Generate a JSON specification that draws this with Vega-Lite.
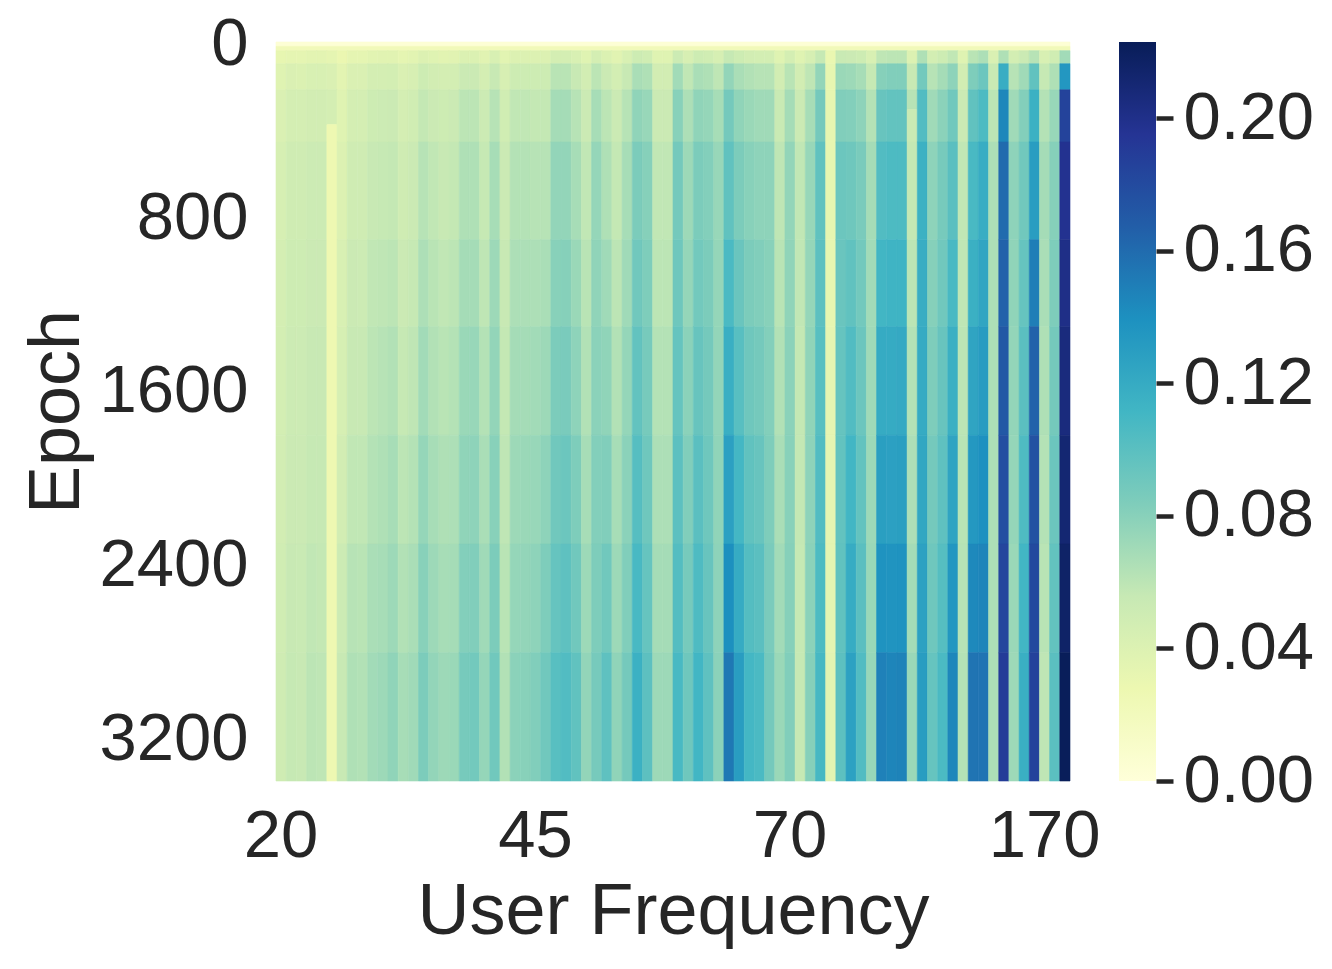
{
  "$schema": "https://vega.github.io/schema/vega-lite/v6.json",
  "description": "Heatmap of a per-user-frequency score over training epochs, with a colour bar",
  "background": "white",
  "padding": {"left": 20, "top": 10, "right": 5, "bottom": 5},
  "bounds": "flush",
  "config": {
    "font": "Liberation Sans",
    "view": {"stroke": null},
    "axis": {
      "labelColor": "#262626",
      "titleColor": "#262626",
      "titleFontWeight": "normal",
      "labelFontSize": 67,
      "titleFontSize": 72,
      "grid": false,
      "domain": false
    }
  },
  "spacing": 49,
  "hconcat": [
    {
      "width": 794,
      "height": 739,
      "encoding": {
        "y": {
          "field": "start",
          "type": "quantitative",
          "scale": {"domain": [-10, 3390], "reverse": true, "nice": false, "zero": false},
          "axis": {"values": [0, 800, 1600, 2400, 3200], "format": "d", "ticks": false, "tickSize": 0, "labelPadding": 28, "title": "Epoch", "titlePadding": 5}
        },
        "y2": {"field": "end"},
        "color": {
          "field": "value",
          "type": "quantitative",
          "legend": null,
          "scale": {
            "domain": [0, 0.027875, 0.05575, 0.083625, 0.1115, 0.139375, 0.16725, 0.195125, 0.223],
            "range": ["#ffffd9", "#edf8b1", "#c7e9b4", "#7fcdbb", "#41b6c4", "#1d91c0", "#225ea8", "#253494", "#081d58"],
            "interpolate": "rgb",
            "clamp": true
          }
        },
        "stroke": {
          "field": "value",
          "type": "quantitative",
          "legend": null,
          "scale": {
            "domain": [0, 0.027875, 0.05575, 0.083625, 0.1115, 0.139375, 0.16725, 0.195125, 0.223],
            "range": ["#ffffd9", "#edf8b1", "#c7e9b4", "#7fcdbb", "#41b6c4", "#1d91c0", "#225ea8", "#253494", "#081d58"],
            "interpolate": "rgb",
            "clamp": true
          }
        }
      },
      "layer": [
        {
          "data": {"values": [
            {"start": -10, "end": 10, "value": 0.003},
            {"start": 10, "end": 30, "value": 0.022}
          ]},
          "mark": {"type": "rect", "strokeWidth": 0.6}
        },
        {
          "data": {"values": [
            {"col":0,"start":30,"end":90,"value":0.032},{"col":0,"start":90,"end":210,"value":0.038},{"col":0,"start":210,"end":450,"value":0.042},{"col":0,"start":450,"end":900,"value":0.045},{"col":0,"start":900,"end":1300,"value":0.046},{"col":0,"start":1300,"end":1800,"value":0.047},{"col":0,"start":1800,"end":2300,"value":0.048},{"col":0,"start":2300,"end":2800,"value":0.049},{"col":0,"start":2800,"end":3390,"value":0.050},
            {"col":1,"start":30,"end":90,"value":0.034},{"col":1,"start":90,"end":210,"value":0.042},{"col":1,"start":210,"end":450,"value":0.046},{"col":1,"start":450,"end":900,"value":0.050},{"col":1,"start":900,"end":1300,"value":0.051},{"col":1,"start":1300,"end":1800,"value":0.052},{"col":1,"start":1800,"end":2300,"value":0.053},{"col":1,"start":2300,"end":2800,"value":0.055},{"col":1,"start":2800,"end":3390,"value":0.056},
            {"col":2,"start":30,"end":90,"value":0.034},{"col":2,"start":90,"end":210,"value":0.041},{"col":2,"start":210,"end":450,"value":0.046},{"col":2,"start":450,"end":900,"value":0.050},{"col":2,"start":900,"end":1300,"value":0.051},{"col":2,"start":1300,"end":1800,"value":0.052},{"col":2,"start":1800,"end":2300,"value":0.053},{"col":2,"start":2300,"end":2800,"value":0.054},{"col":2,"start":2800,"end":3390,"value":0.055},
            {"col":3,"start":30,"end":90,"value":0.035},{"col":3,"start":90,"end":210,"value":0.043},{"col":3,"start":210,"end":450,"value":0.048},{"col":3,"start":450,"end":900,"value":0.052},{"col":3,"start":900,"end":1300,"value":0.053},{"col":3,"start":1300,"end":1800,"value":0.055},{"col":3,"start":1800,"end":2300,"value":0.056},{"col":3,"start":2300,"end":2800,"value":0.058},{"col":3,"start":2800,"end":3390,"value":0.060},
            {"col":4,"start":30,"end":90,"value":0.035},{"col":4,"start":90,"end":210,"value":0.043},{"col":4,"start":210,"end":450,"value":0.048},{"col":4,"start":450,"end":900,"value":0.052},{"col":4,"start":900,"end":1300,"value":0.053},{"col":4,"start":1300,"end":1800,"value":0.055},{"col":4,"start":1800,"end":2300,"value":0.056},{"col":4,"start":2300,"end":2800,"value":0.057},{"col":4,"start":2800,"end":3390,"value":0.059},
            {"col":5,"start":30,"end":90,"value":0.034},{"col":5,"start":90,"end":210,"value":0.042},{"col":5,"start":210,"end":370,"value":0.046},{"col":5,"start":370,"end":3390,"value":0.027},
            {"col":6,"start":30,"end":90,"value":0.029},{"col":6,"start":90,"end":210,"value":0.035},{"col":6,"start":210,"end":450,"value":0.038},{"col":6,"start":450,"end":900,"value":0.040},{"col":6,"start":900,"end":1300,"value":0.043},{"col":6,"start":1300,"end":1800,"value":0.045},{"col":6,"start":1800,"end":2300,"value":0.048},{"col":6,"start":2300,"end":2800,"value":0.052},{"col":6,"start":2800,"end":3390,"value":0.055},
            {"col":7,"start":30,"end":90,"value":0.034},{"col":7,"start":90,"end":210,"value":0.042},{"col":7,"start":210,"end":450,"value":0.046},{"col":7,"start":450,"end":900,"value":0.050},{"col":7,"start":900,"end":1300,"value":0.053},{"col":7,"start":1300,"end":1800,"value":0.055},{"col":7,"start":1800,"end":2300,"value":0.058},{"col":7,"start":2300,"end":2800,"value":0.062},{"col":7,"start":2800,"end":3390,"value":0.065},
            {"col":8,"start":30,"end":90,"value":0.034},{"col":8,"start":90,"end":210,"value":0.042},{"col":8,"start":210,"end":450,"value":0.046},{"col":8,"start":450,"end":900,"value":0.050},{"col":8,"start":900,"end":1300,"value":0.052},{"col":8,"start":1300,"end":1800,"value":0.055},{"col":8,"start":1800,"end":2300,"value":0.058},{"col":8,"start":2300,"end":2800,"value":0.061},{"col":8,"start":2800,"end":3390,"value":0.064},
            {"col":9,"start":30,"end":90,"value":0.036},{"col":9,"start":90,"end":210,"value":0.046},{"col":9,"start":210,"end":450,"value":0.051},{"col":9,"start":450,"end":900,"value":0.055},{"col":9,"start":900,"end":1300,"value":0.058},{"col":9,"start":1300,"end":1800,"value":0.060},{"col":9,"start":1800,"end":2300,"value":0.063},{"col":9,"start":2300,"end":2800,"value":0.067},{"col":9,"start":2800,"end":3390,"value":0.070},
            {"col":10,"start":30,"end":90,"value":0.037},{"col":10,"start":90,"end":210,"value":0.046},{"col":10,"start":210,"end":450,"value":0.052},{"col":10,"start":450,"end":900,"value":0.056},{"col":10,"start":900,"end":1300,"value":0.059},{"col":10,"start":1300,"end":1800,"value":0.062},{"col":10,"start":1800,"end":2300,"value":0.065},{"col":10,"start":2300,"end":2800,"value":0.068},{"col":10,"start":2800,"end":3390,"value":0.072},
            {"col":11,"start":30,"end":90,"value":0.037},{"col":11,"start":90,"end":210,"value":0.047},{"col":11,"start":210,"end":450,"value":0.053},{"col":11,"start":450,"end":900,"value":0.057},{"col":11,"start":900,"end":1300,"value":0.060},{"col":11,"start":1300,"end":1800,"value":0.064},{"col":11,"start":1800,"end":2300,"value":0.068},{"col":11,"start":2300,"end":2800,"value":0.072},{"col":11,"start":2800,"end":3390,"value":0.077},
            {"col":12,"start":30,"end":90,"value":0.034},{"col":12,"start":90,"end":210,"value":0.042},{"col":12,"start":210,"end":450,"value":0.046},{"col":12,"start":450,"end":900,"value":0.050},{"col":12,"start":900,"end":1300,"value":0.053},{"col":12,"start":1300,"end":1800,"value":0.056},{"col":12,"start":1800,"end":2300,"value":0.060},{"col":12,"start":2300,"end":2800,"value":0.064},{"col":12,"start":2800,"end":3390,"value":0.068},
            {"col":13,"start":30,"end":90,"value":0.036},{"col":13,"start":90,"end":210,"value":0.044},{"col":13,"start":210,"end":450,"value":0.049},{"col":13,"start":450,"end":900,"value":0.053},{"col":13,"start":900,"end":1300,"value":0.056},{"col":13,"start":1300,"end":1800,"value":0.059},{"col":13,"start":1800,"end":2300,"value":0.063},{"col":13,"start":2300,"end":2800,"value":0.067},{"col":13,"start":2800,"end":3390,"value":0.071},
            {"col":14,"start":30,"end":90,"value":0.040},{"col":14,"start":90,"end":210,"value":0.051},{"col":14,"start":210,"end":450,"value":0.057},{"col":14,"start":450,"end":900,"value":0.062},{"col":14,"start":900,"end":1300,"value":0.066},{"col":14,"start":1300,"end":1800,"value":0.070},{"col":14,"start":1800,"end":2300,"value":0.075},{"col":14,"start":2300,"end":2800,"value":0.080},{"col":14,"start":2800,"end":3390,"value":0.085},
            {"col":15,"start":30,"end":90,"value":0.038},{"col":15,"start":90,"end":210,"value":0.048},{"col":15,"start":210,"end":450,"value":0.053},{"col":15,"start":450,"end":900,"value":0.058},{"col":15,"start":900,"end":1300,"value":0.061},{"col":15,"start":1300,"end":1800,"value":0.064},{"col":15,"start":1800,"end":2300,"value":0.068},{"col":15,"start":2300,"end":2800,"value":0.072},{"col":15,"start":2800,"end":3390,"value":0.076},
            {"col":16,"start":30,"end":90,"value":0.036},{"col":16,"start":90,"end":210,"value":0.046},{"col":16,"start":210,"end":450,"value":0.051},{"col":16,"start":450,"end":900,"value":0.055},{"col":16,"start":900,"end":1300,"value":0.058},{"col":16,"start":1300,"end":1800,"value":0.061},{"col":16,"start":1800,"end":2300,"value":0.065},{"col":16,"start":2300,"end":2800,"value":0.068},{"col":16,"start":2800,"end":3390,"value":0.072},
            {"col":17,"start":30,"end":90,"value":0.037},{"col":17,"start":90,"end":210,"value":0.047},{"col":17,"start":210,"end":450,"value":0.053},{"col":17,"start":450,"end":900,"value":0.057},{"col":17,"start":900,"end":1300,"value":0.060},{"col":17,"start":1300,"end":1800,"value":0.063},{"col":17,"start":1800,"end":2300,"value":0.066},{"col":17,"start":2300,"end":2800,"value":0.069},{"col":17,"start":2800,"end":3390,"value":0.073},
            {"col":18,"start":30,"end":90,"value":0.041},{"col":18,"start":90,"end":210,"value":0.053},{"col":18,"start":210,"end":450,"value":0.060},{"col":18,"start":450,"end":900,"value":0.065},{"col":18,"start":900,"end":1300,"value":0.069},{"col":18,"start":1300,"end":1800,"value":0.073},{"col":18,"start":1800,"end":2300,"value":0.077},{"col":18,"start":2300,"end":2800,"value":0.082},{"col":18,"start":2800,"end":3390,"value":0.087},
            {"col":19,"start":30,"end":90,"value":0.041},{"col":19,"start":90,"end":210,"value":0.053},{"col":19,"start":210,"end":450,"value":0.060},{"col":19,"start":450,"end":900,"value":0.065},{"col":19,"start":900,"end":1300,"value":0.069},{"col":19,"start":1300,"end":1800,"value":0.074},{"col":19,"start":1800,"end":2300,"value":0.078},{"col":19,"start":2300,"end":2800,"value":0.083},{"col":19,"start":2800,"end":3390,"value":0.089},
            {"col":20,"start":30,"end":90,"value":0.037},{"col":20,"start":90,"end":210,"value":0.046},{"col":20,"start":210,"end":450,"value":0.052},{"col":20,"start":450,"end":900,"value":0.056},{"col":20,"start":900,"end":1300,"value":0.059},{"col":20,"start":1300,"end":1800,"value":0.063},{"col":20,"start":1800,"end":2300,"value":0.067},{"col":20,"start":2300,"end":2800,"value":0.071},{"col":20,"start":2800,"end":3390,"value":0.075},
            {"col":21,"start":30,"end":90,"value":0.043},{"col":21,"start":90,"end":210,"value":0.055},{"col":21,"start":210,"end":450,"value":0.062},{"col":21,"start":450,"end":900,"value":0.068},{"col":21,"start":900,"end":1300,"value":0.072},{"col":21,"start":1300,"end":1800,"value":0.076},{"col":21,"start":1800,"end":2300,"value":0.080},{"col":21,"start":2300,"end":2800,"value":0.085},{"col":21,"start":2800,"end":3390,"value":0.090},
            {"col":22,"start":30,"end":90,"value":0.036},{"col":22,"start":90,"end":210,"value":0.044},{"col":22,"start":210,"end":450,"value":0.049},{"col":22,"start":450,"end":900,"value":0.053},{"col":22,"start":900,"end":1300,"value":0.055},{"col":22,"start":1300,"end":1800,"value":0.057},{"col":22,"start":1800,"end":2300,"value":0.059},{"col":22,"start":2300,"end":2800,"value":0.061},{"col":22,"start":2800,"end":3390,"value":0.064},
            {"col":23,"start":30,"end":90,"value":0.040},{"col":23,"start":90,"end":210,"value":0.051},{"col":23,"start":210,"end":450,"value":0.058},{"col":23,"start":450,"end":900,"value":0.063},{"col":23,"start":900,"end":1300,"value":0.066},{"col":23,"start":1300,"end":1800,"value":0.069},{"col":23,"start":1800,"end":2300,"value":0.072},{"col":23,"start":2300,"end":2800,"value":0.075},{"col":23,"start":2800,"end":3390,"value":0.079},
            {"col":24,"start":30,"end":90,"value":0.040},{"col":24,"start":90,"end":210,"value":0.051},{"col":24,"start":210,"end":450,"value":0.058},{"col":24,"start":450,"end":900,"value":0.063},{"col":24,"start":900,"end":1300,"value":0.066},{"col":24,"start":1300,"end":1800,"value":0.069},{"col":24,"start":1800,"end":2300,"value":0.073},{"col":24,"start":2300,"end":2800,"value":0.076},{"col":24,"start":2800,"end":3390,"value":0.080},
            {"col":25,"start":30,"end":90,"value":0.040},{"col":25,"start":90,"end":210,"value":0.051},{"col":25,"start":210,"end":450,"value":0.057},{"col":25,"start":450,"end":900,"value":0.062},{"col":25,"start":900,"end":1300,"value":0.066},{"col":25,"start":1300,"end":1800,"value":0.070},{"col":25,"start":1800,"end":2300,"value":0.074},{"col":25,"start":2300,"end":2800,"value":0.078},{"col":25,"start":2800,"end":3390,"value":0.083},
            {"col":26,"start":30,"end":90,"value":0.040},{"col":26,"start":90,"end":210,"value":0.051},{"col":26,"start":210,"end":450,"value":0.057},{"col":26,"start":450,"end":900,"value":0.062},{"col":26,"start":900,"end":1300,"value":0.067},{"col":26,"start":1300,"end":1800,"value":0.072},{"col":26,"start":1800,"end":2300,"value":0.078},{"col":26,"start":2300,"end":2800,"value":0.084},{"col":26,"start":2800,"end":3390,"value":0.090},
            {"col":27,"start":30,"end":90,"value":0.046},{"col":27,"start":90,"end":210,"value":0.061},{"col":27,"start":210,"end":450,"value":0.069},{"col":27,"start":450,"end":900,"value":0.076},{"col":27,"start":900,"end":1300,"value":0.080},{"col":27,"start":1300,"end":1800,"value":0.085},{"col":27,"start":1800,"end":2300,"value":0.090},{"col":27,"start":2300,"end":2800,"value":0.095},{"col":27,"start":2800,"end":3390,"value":0.101},
            {"col":28,"start":30,"end":90,"value":0.046},{"col":28,"start":90,"end":210,"value":0.061},{"col":28,"start":210,"end":450,"value":0.069},{"col":28,"start":450,"end":900,"value":0.076},{"col":28,"start":900,"end":1300,"value":0.081},{"col":28,"start":1300,"end":1800,"value":0.086},{"col":28,"start":1800,"end":2300,"value":0.092},{"col":28,"start":2300,"end":2800,"value":0.098},{"col":28,"start":2800,"end":3390,"value":0.104},
            {"col":29,"start":30,"end":90,"value":0.043},{"col":29,"start":90,"end":210,"value":0.055},{"col":29,"start":210,"end":450,"value":0.062},{"col":29,"start":450,"end":900,"value":0.068},{"col":29,"start":900,"end":1300,"value":0.073},{"col":29,"start":1300,"end":1800,"value":0.078},{"col":29,"start":1800,"end":2300,"value":0.084},{"col":29,"start":2300,"end":2800,"value":0.090},{"col":29,"start":2800,"end":3390,"value":0.097},
            {"col":30,"start":30,"end":90,"value":0.038},{"col":30,"start":90,"end":210,"value":0.048},{"col":30,"start":210,"end":450,"value":0.053},{"col":30,"start":450,"end":900,"value":0.058},{"col":30,"start":900,"end":1300,"value":0.061},{"col":30,"start":1300,"end":1800,"value":0.064},{"col":30,"start":1800,"end":2300,"value":0.068},{"col":30,"start":2300,"end":2800,"value":0.072},{"col":30,"start":2800,"end":3390,"value":0.076},
            {"col":31,"start":30,"end":90,"value":0.046},{"col":31,"start":90,"end":210,"value":0.060},{"col":31,"start":210,"end":450,"value":0.068},{"col":31,"start":450,"end":900,"value":0.075},{"col":31,"start":900,"end":1300,"value":0.077},{"col":31,"start":1300,"end":1800,"value":0.079},{"col":31,"start":1800,"end":2300,"value":0.082},{"col":31,"start":2300,"end":2800,"value":0.084},{"col":31,"start":2800,"end":3390,"value":0.087},
            {"col":32,"start":30,"end":90,"value":0.041},{"col":32,"start":90,"end":210,"value":0.053},{"col":32,"start":210,"end":450,"value":0.060},{"col":32,"start":450,"end":900,"value":0.065},{"col":32,"start":900,"end":1300,"value":0.071},{"col":32,"start":1300,"end":1800,"value":0.077},{"col":32,"start":1800,"end":2300,"value":0.083},{"col":32,"start":2300,"end":2800,"value":0.090},{"col":32,"start":2800,"end":3390,"value":0.098},
            {"col":33,"start":30,"end":90,"value":0.037},{"col":33,"start":90,"end":210,"value":0.047},{"col":33,"start":210,"end":450,"value":0.053},{"col":33,"start":450,"end":900,"value":0.057},{"col":33,"start":900,"end":1300,"value":0.060},{"col":33,"start":1300,"end":1800,"value":0.064},{"col":33,"start":1800,"end":2300,"value":0.068},{"col":33,"start":2300,"end":2800,"value":0.072},{"col":33,"start":2800,"end":3390,"value":0.077},
            {"col":34,"start":30,"end":90,"value":0.043},{"col":34,"start":90,"end":210,"value":0.055},{"col":34,"start":210,"end":450,"value":0.062},{"col":34,"start":450,"end":900,"value":0.068},{"col":34,"start":900,"end":1300,"value":0.071},{"col":34,"start":1300,"end":1800,"value":0.075},{"col":34,"start":1800,"end":2300,"value":0.079},{"col":34,"start":2300,"end":2800,"value":0.083},{"col":34,"start":2800,"end":3390,"value":0.088},
            {"col":35,"start":30,"end":90,"value":0.051},{"col":35,"start":90,"end":210,"value":0.067},{"col":35,"start":210,"end":450,"value":0.077},{"col":35,"start":450,"end":900,"value":0.085},{"col":35,"start":900,"end":1300,"value":0.090},{"col":35,"start":1300,"end":1800,"value":0.096},{"col":35,"start":1800,"end":2300,"value":0.102},{"col":35,"start":2300,"end":2800,"value":0.108},{"col":35,"start":2800,"end":3390,"value":0.115},
            {"col":36,"start":30,"end":90,"value":0.049},{"col":36,"start":90,"end":210,"value":0.065},{"col":36,"start":210,"end":450,"value":0.074},{"col":36,"start":450,"end":900,"value":0.081},{"col":36,"start":900,"end":1300,"value":0.084},{"col":36,"start":1300,"end":1800,"value":0.087},{"col":36,"start":1800,"end":2300,"value":0.091},{"col":36,"start":2300,"end":2800,"value":0.095},{"col":36,"start":2800,"end":3390,"value":0.099},
            {"col":37,"start":30,"end":90,"value":0.038},{"col":37,"start":90,"end":210,"value":0.048},{"col":37,"start":210,"end":450,"value":0.053},{"col":37,"start":450,"end":900,"value":0.058},{"col":37,"start":900,"end":1300,"value":0.060},{"col":37,"start":1300,"end":1800,"value":0.063},{"col":37,"start":1800,"end":2300,"value":0.066},{"col":37,"start":2300,"end":2800,"value":0.069},{"col":37,"start":2800,"end":3390,"value":0.072},
            {"col":38,"start":30,"end":90,"value":0.038},{"col":38,"start":90,"end":210,"value":0.048},{"col":38,"start":210,"end":450,"value":0.053},{"col":38,"start":450,"end":900,"value":0.058},{"col":38,"start":900,"end":1300,"value":0.060},{"col":38,"start":1300,"end":1800,"value":0.063},{"col":38,"start":1800,"end":2300,"value":0.066},{"col":38,"start":2300,"end":2800,"value":0.069},{"col":38,"start":2800,"end":3390,"value":0.072},
            {"col":39,"start":30,"end":90,"value":0.052},{"col":39,"start":90,"end":210,"value":0.070},{"col":39,"start":210,"end":450,"value":0.080},{"col":39,"start":450,"end":900,"value":0.088},{"col":39,"start":900,"end":1300,"value":0.091},{"col":39,"start":1300,"end":1800,"value":0.095},{"col":39,"start":1800,"end":2300,"value":0.099},{"col":39,"start":2300,"end":2800,"value":0.103},{"col":39,"start":2800,"end":3390,"value":0.108},
            {"col":40,"start":30,"end":90,"value":0.044},{"col":40,"start":90,"end":210,"value":0.058},{"col":40,"start":210,"end":450,"value":0.066},{"col":40,"start":450,"end":900,"value":0.072},{"col":40,"start":900,"end":1300,"value":0.075},{"col":40,"start":1300,"end":1800,"value":0.079},{"col":40,"start":1800,"end":2300,"value":0.083},{"col":40,"start":2300,"end":2800,"value":0.087},{"col":40,"start":2800,"end":3390,"value":0.091},
            {"col":41,"start":30,"end":90,"value":0.051},{"col":41,"start":90,"end":210,"value":0.067},{"col":41,"start":210,"end":450,"value":0.077},{"col":41,"start":450,"end":900,"value":0.085},{"col":41,"start":900,"end":1300,"value":0.089},{"col":41,"start":1300,"end":1800,"value":0.094},{"col":41,"start":1800,"end":2300,"value":0.100},{"col":41,"start":2300,"end":2800,"value":0.105},{"col":41,"start":2800,"end":3390,"value":0.111},
            {"col":42,"start":30,"end":90,"value":0.049},{"col":42,"start":90,"end":210,"value":0.065},{"col":42,"start":210,"end":450,"value":0.075},{"col":42,"start":450,"end":900,"value":0.082},{"col":42,"start":900,"end":1300,"value":0.085},{"col":42,"start":1300,"end":1800,"value":0.088},{"col":42,"start":1800,"end":2300,"value":0.091},{"col":42,"start":2300,"end":2800,"value":0.094},{"col":42,"start":2800,"end":3390,"value":0.098},
            {"col":43,"start":30,"end":90,"value":0.045},{"col":43,"start":90,"end":210,"value":0.059},{"col":43,"start":210,"end":450,"value":0.068},{"col":43,"start":450,"end":900,"value":0.074},{"col":43,"start":900,"end":1300,"value":0.075},{"col":43,"start":1300,"end":1800,"value":0.076},{"col":43,"start":1800,"end":2300,"value":0.077},{"col":43,"start":2300,"end":2800,"value":0.078},{"col":43,"start":2800,"end":3390,"value":0.079},
            {"col":44,"start":30,"end":90,"value":0.056},{"col":44,"start":90,"end":210,"value":0.076},{"col":44,"start":210,"end":450,"value":0.088},{"col":44,"start":450,"end":900,"value":0.097},{"col":44,"start":900,"end":1300,"value":0.107},{"col":44,"start":1300,"end":1800,"value":0.117},{"col":44,"start":1800,"end":2300,"value":0.128},{"col":44,"start":2300,"end":2800,"value":0.140},{"col":44,"start":2800,"end":3390,"value":0.153},
            {"col":45,"start":30,"end":90,"value":0.051},{"col":45,"start":90,"end":210,"value":0.067},{"col":45,"start":210,"end":450,"value":0.077},{"col":45,"start":450,"end":900,"value":0.085},{"col":45,"start":900,"end":1300,"value":0.093},{"col":45,"start":1300,"end":1800,"value":0.101},{"col":45,"start":1800,"end":2300,"value":0.110},{"col":45,"start":2300,"end":2800,"value":0.120},{"col":45,"start":2800,"end":3390,"value":0.130},
            {"col":46,"start":30,"end":90,"value":0.048},{"col":46,"start":90,"end":210,"value":0.064},{"col":46,"start":210,"end":450,"value":0.073},{"col":46,"start":450,"end":900,"value":0.080},{"col":46,"start":900,"end":1300,"value":0.085},{"col":46,"start":1300,"end":1800,"value":0.091},{"col":46,"start":1800,"end":2300,"value":0.097},{"col":46,"start":2300,"end":2800,"value":0.103},{"col":46,"start":2800,"end":3390,"value":0.110},
            {"col":47,"start":30,"end":90,"value":0.047},{"col":47,"start":90,"end":210,"value":0.062},{"col":47,"start":210,"end":450,"value":0.071},{"col":47,"start":450,"end":900,"value":0.078},{"col":47,"start":900,"end":1300,"value":0.083},{"col":47,"start":1300,"end":1800,"value":0.088},{"col":47,"start":1800,"end":2300,"value":0.094},{"col":47,"start":2300,"end":2800,"value":0.100},{"col":47,"start":2800,"end":3390,"value":0.107},
            {"col":48,"start":30,"end":90,"value":0.047},{"col":48,"start":90,"end":210,"value":0.062},{"col":48,"start":210,"end":450,"value":0.071},{"col":48,"start":450,"end":900,"value":0.078},{"col":48,"start":900,"end":1300,"value":0.080},{"col":48,"start":1300,"end":1800,"value":0.082},{"col":48,"start":1800,"end":2300,"value":0.084},{"col":48,"start":2300,"end":2800,"value":0.086},{"col":48,"start":2800,"end":3390,"value":0.088},
            {"col":49,"start":30,"end":90,"value":0.038},{"col":49,"start":90,"end":210,"value":0.048},{"col":49,"start":210,"end":450,"value":0.054},{"col":49,"start":450,"end":900,"value":0.059},{"col":49,"start":900,"end":1300,"value":0.061},{"col":49,"start":1300,"end":1800,"value":0.064},{"col":49,"start":1800,"end":2300,"value":0.067},{"col":49,"start":2300,"end":2800,"value":0.070},{"col":49,"start":2800,"end":3390,"value":0.073},
            {"col":50,"start":30,"end":90,"value":0.046},{"col":50,"start":90,"end":210,"value":0.061},{"col":50,"start":210,"end":450,"value":0.069},{"col":50,"start":450,"end":900,"value":0.076},{"col":50,"start":900,"end":1300,"value":0.077},{"col":50,"start":1300,"end":1800,"value":0.079},{"col":50,"start":1800,"end":2300,"value":0.080},{"col":50,"start":2300,"end":2800,"value":0.081},{"col":50,"start":2800,"end":3390,"value":0.083},
            {"col":51,"start":30,"end":90,"value":0.038},{"col":51,"start":90,"end":210,"value":0.048},{"col":51,"start":210,"end":450,"value":0.053},{"col":51,"start":450,"end":900,"value":0.058},{"col":51,"start":900,"end":1300,"value":0.058},{"col":51,"start":1300,"end":1800,"value":0.057},{"col":51,"start":1800,"end":2300,"value":0.057},{"col":51,"start":2300,"end":2800,"value":0.056},{"col":51,"start":2800,"end":3390,"value":0.056},
            {"col":52,"start":30,"end":90,"value":0.045},{"col":52,"start":90,"end":210,"value":0.059},{"col":52,"start":210,"end":450,"value":0.068},{"col":52,"start":450,"end":900,"value":0.074},{"col":52,"start":900,"end":1300,"value":0.075},{"col":52,"start":1300,"end":1800,"value":0.077},{"col":52,"start":1800,"end":2300,"value":0.078},{"col":52,"start":2300,"end":2800,"value":0.079},{"col":52,"start":2800,"end":3390,"value":0.081},
            {"col":53,"start":30,"end":90,"value":0.056},{"col":53,"start":90,"end":210,"value":0.076},{"col":53,"start":210,"end":450,"value":0.088},{"col":53,"start":450,"end":900,"value":0.097},{"col":53,"start":900,"end":1300,"value":0.099},{"col":53,"start":1300,"end":1800,"value":0.101},{"col":53,"start":1800,"end":2300,"value":0.104},{"col":53,"start":2300,"end":2800,"value":0.106},{"col":53,"start":2800,"end":3390,"value":0.109},
            {"col":54,"start":30,"end":90,"value":0.030},{"col":54,"start":90,"end":210,"value":0.032},{"col":54,"start":210,"end":450,"value":0.032},{"col":54,"start":450,"end":900,"value":0.032},{"col":54,"start":900,"end":1300,"value":0.032},{"col":54,"start":1300,"end":1800,"value":0.033},{"col":54,"start":1800,"end":2300,"value":0.034},{"col":54,"start":2300,"end":2800,"value":0.034},{"col":54,"start":2800,"end":3390,"value":0.035},
            {"col":55,"start":30,"end":90,"value":0.054},{"col":55,"start":90,"end":210,"value":0.073},{"col":55,"start":210,"end":450,"value":0.083},{"col":55,"start":450,"end":900,"value":0.092},{"col":55,"start":900,"end":1300,"value":0.093},{"col":55,"start":1300,"end":1800,"value":0.095},{"col":55,"start":1800,"end":2300,"value":0.096},{"col":55,"start":2300,"end":2800,"value":0.097},{"col":55,"start":2800,"end":3390,"value":0.099},
            {"col":56,"start":30,"end":90,"value":0.053},{"col":56,"start":90,"end":210,"value":0.072},{"col":56,"start":210,"end":450,"value":0.082},{"col":56,"start":450,"end":900,"value":0.091},{"col":56,"start":900,"end":1300,"value":0.097},{"col":56,"start":1300,"end":1800,"value":0.104},{"col":56,"start":1800,"end":2300,"value":0.111},{"col":56,"start":2300,"end":2800,"value":0.119},{"col":56,"start":2800,"end":3390,"value":0.127},
            {"col":57,"start":30,"end":90,"value":0.051},{"col":57,"start":90,"end":210,"value":0.068},{"col":57,"start":210,"end":450,"value":0.078},{"col":57,"start":450,"end":900,"value":0.086},{"col":57,"start":900,"end":1300,"value":0.089},{"col":57,"start":1300,"end":1800,"value":0.092},{"col":57,"start":1800,"end":2300,"value":0.096},{"col":57,"start":2300,"end":2800,"value":0.100},{"col":57,"start":2800,"end":3390,"value":0.104},
            {"col":58,"start":30,"end":90,"value":0.043},{"col":58,"start":90,"end":210,"value":0.056},{"col":58,"start":210,"end":450,"value":0.063},{"col":58,"start":450,"end":900,"value":0.069},{"col":58,"start":900,"end":1300,"value":0.070},{"col":58,"start":1300,"end":1800,"value":0.071},{"col":58,"start":1800,"end":2300,"value":0.072},{"col":58,"start":2300,"end":2800,"value":0.073},{"col":58,"start":2800,"end":3390,"value":0.074},
            {"col":59,"start":30,"end":90,"value":0.059},{"col":59,"start":90,"end":210,"value":0.081},{"col":59,"start":210,"end":450,"value":0.094},{"col":59,"start":450,"end":900,"value":0.104},{"col":59,"start":900,"end":1300,"value":0.111},{"col":59,"start":1300,"end":1800,"value":0.120},{"col":59,"start":1800,"end":2300,"value":0.129},{"col":59,"start":2300,"end":2800,"value":0.138},{"col":59,"start":2800,"end":3390,"value":0.148},
            {"col":60,"start":30,"end":90,"value":0.060},{"col":60,"start":90,"end":210,"value":0.083},{"col":60,"start":210,"end":450,"value":0.096},{"col":60,"start":450,"end":900,"value":0.106},{"col":60,"start":900,"end":1300,"value":0.113},{"col":60,"start":1300,"end":1800,"value":0.120},{"col":60,"start":1800,"end":2300,"value":0.128},{"col":60,"start":2300,"end":2800,"value":0.137},{"col":60,"start":2800,"end":3390,"value":0.146},
            {"col":61,"start":30,"end":90,"value":0.060},{"col":61,"start":90,"end":210,"value":0.083},{"col":61,"start":210,"end":450,"value":0.096},{"col":61,"start":450,"end":900,"value":0.106},{"col":61,"start":900,"end":1300,"value":0.113},{"col":61,"start":1300,"end":1800,"value":0.121},{"col":61,"start":1800,"end":2300,"value":0.129},{"col":61,"start":2300,"end":2800,"value":0.138},{"col":61,"start":2800,"end":3390,"value":0.147},
            {"col":62,"start":30,"end":90,"value":0.040},{"col":62,"start":90,"end":210,"value":0.055},{"col":62,"start":210,"end":300,"value":0.062},{"col":62,"start":300,"end":450,"value":0.054},{"col":62,"start":450,"end":900,"value":0.057},{"col":62,"start":900,"end":1300,"value":0.060},{"col":62,"start":1300,"end":1800,"value":0.063},{"col":62,"start":1800,"end":2300,"value":0.066},{"col":62,"start":2300,"end":2800,"value":0.069},{"col":62,"start":2800,"end":3390,"value":0.073},
            {"col":63,"start":30,"end":90,"value":0.065},{"col":63,"start":90,"end":210,"value":0.089},{"col":63,"start":210,"end":450,"value":0.104},{"col":63,"start":450,"end":900,"value":0.115},{"col":63,"start":900,"end":1300,"value":0.118},{"col":63,"start":1300,"end":1800,"value":0.120},{"col":63,"start":1800,"end":2300,"value":0.123},{"col":63,"start":2300,"end":2800,"value":0.127},{"col":63,"start":2800,"end":3390,"value":0.130},
            {"col":64,"start":30,"end":90,"value":0.047},{"col":64,"start":90,"end":210,"value":0.062},{"col":64,"start":210,"end":450,"value":0.071},{"col":64,"start":450,"end":900,"value":0.078},{"col":64,"start":900,"end":1300,"value":0.081},{"col":64,"start":1300,"end":1800,"value":0.084},{"col":64,"start":1800,"end":2300,"value":0.088},{"col":64,"start":2300,"end":2800,"value":0.091},{"col":64,"start":2800,"end":3390,"value":0.095},
            {"col":65,"start":30,"end":90,"value":0.051},{"col":65,"start":90,"end":210,"value":0.069},{"col":65,"start":210,"end":450,"value":0.079},{"col":65,"start":450,"end":900,"value":0.087},{"col":65,"start":900,"end":1300,"value":0.090},{"col":65,"start":1300,"end":1800,"value":0.094},{"col":65,"start":1800,"end":2300,"value":0.098},{"col":65,"start":2300,"end":2800,"value":0.102},{"col":65,"start":2800,"end":3390,"value":0.107},
            {"col":66,"start":30,"end":90,"value":0.058},{"col":66,"start":90,"end":210,"value":0.078},{"col":66,"start":210,"end":450,"value":0.090},{"col":66,"start":450,"end":900,"value":0.100},{"col":66,"start":900,"end":1300,"value":0.108},{"col":66,"start":1300,"end":1800,"value":0.116},{"col":66,"start":1800,"end":2300,"value":0.125},{"col":66,"start":2300,"end":2800,"value":0.135},{"col":66,"start":2800,"end":3390,"value":0.145},
            {"col":67,"start":30,"end":90,"value":0.038},{"col":67,"start":90,"end":210,"value":0.048},{"col":67,"start":210,"end":450,"value":0.053},{"col":67,"start":450,"end":900,"value":0.058},{"col":67,"start":900,"end":1300,"value":0.059},{"col":67,"start":1300,"end":1800,"value":0.060},{"col":67,"start":1800,"end":2300,"value":0.061},{"col":67,"start":2300,"end":2800,"value":0.062},{"col":67,"start":2800,"end":3390,"value":0.063},
            {"col":68,"start":30,"end":90,"value":0.061},{"col":68,"start":90,"end":210,"value":0.084},{"col":68,"start":210,"end":450,"value":0.097},{"col":68,"start":450,"end":900,"value":0.108},{"col":68,"start":900,"end":1300,"value":0.116},{"col":68,"start":1300,"end":1800,"value":0.125},{"col":68,"start":1800,"end":2300,"value":0.134},{"col":68,"start":2300,"end":2800,"value":0.144},{"col":68,"start":2800,"end":3390,"value":0.155},
            {"col":69,"start":30,"end":90,"value":0.066},{"col":69,"start":90,"end":210,"value":0.092},{"col":69,"start":210,"end":450,"value":0.106},{"col":69,"start":450,"end":900,"value":0.118},{"col":69,"start":900,"end":1300,"value":0.124},{"col":69,"start":1300,"end":1800,"value":0.131},{"col":69,"start":1800,"end":2300,"value":0.139},{"col":69,"start":2300,"end":2800,"value":0.146},{"col":69,"start":2800,"end":3390,"value":0.155},
            {"col":70,"start":30,"end":90,"value":0.042},{"col":70,"start":90,"end":210,"value":0.054},{"col":70,"start":210,"end":450,"value":0.060},{"col":70,"start":450,"end":3390,"value":0.066},
            {"col":71,"start":30,"end":90,"value":0.065},{"col":71,"start":90,"end":210,"value":0.118},{"col":71,"start":210,"end":450,"value":0.145},{"col":71,"start":450,"end":900,"value":0.160},{"col":71,"start":900,"end":1300,"value":0.165},{"col":71,"start":1300,"end":1800,"value":0.171},{"col":71,"start":1800,"end":2300,"value":0.177},{"col":71,"start":2300,"end":2800,"value":0.183},{"col":71,"start":2800,"end":3390,"value":0.190},
            {"col":72,"start":30,"end":90,"value":0.047},{"col":72,"start":90,"end":210,"value":0.062},{"col":72,"start":210,"end":450,"value":0.071},{"col":72,"start":450,"end":900,"value":0.078},{"col":72,"start":900,"end":1300,"value":0.077},{"col":72,"start":1300,"end":1800,"value":0.076},{"col":72,"start":1800,"end":2300,"value":0.075},{"col":72,"start":2300,"end":2800,"value":0.073},{"col":72,"start":2800,"end":3390,"value":0.072},
            {"col":73,"start":30,"end":90,"value":0.053},{"col":73,"start":90,"end":210,"value":0.071},{"col":73,"start":210,"end":450,"value":0.082},{"col":73,"start":450,"end":900,"value":0.090},{"col":73,"start":900,"end":1300,"value":0.095},{"col":73,"start":1300,"end":1800,"value":0.100},{"col":73,"start":1800,"end":2300,"value":0.105},{"col":73,"start":2300,"end":2800,"value":0.111},{"col":73,"start":2800,"end":3390,"value":0.117},
            {"col":74,"start":30,"end":90,"value":0.062},{"col":74,"start":90,"end":210,"value":0.097},{"col":74,"start":210,"end":450,"value":0.115},{"col":74,"start":450,"end":900,"value":0.130},{"col":74,"start":900,"end":1300,"value":0.150},{"col":74,"start":1300,"end":1800,"value":0.165},{"col":74,"start":1800,"end":2300,"value":0.175},{"col":74,"start":2300,"end":2800,"value":0.181},{"col":74,"start":2800,"end":3390,"value":0.186},
            {"col":75,"start":30,"end":90,"value":0.043},{"col":75,"start":90,"end":210,"value":0.056},{"col":75,"start":210,"end":450,"value":0.063},{"col":75,"start":450,"end":900,"value":0.069},{"col":75,"start":900,"end":1300,"value":0.067},{"col":75,"start":1300,"end":1800,"value":0.065},{"col":75,"start":1800,"end":2300,"value":0.063},{"col":75,"start":2300,"end":2800,"value":0.061},{"col":75,"start":2800,"end":3390,"value":0.059},
            {"col":76,"start":30,"end":90,"value":0.049},{"col":76,"start":90,"end":210,"value":0.065},{"col":76,"start":210,"end":450,"value":0.074},{"col":76,"start":450,"end":900,"value":0.081},{"col":76,"start":900,"end":1300,"value":0.084},{"col":76,"start":1300,"end":1800,"value":0.088},{"col":76,"start":1800,"end":2300,"value":0.092},{"col":76,"start":2300,"end":2800,"value":0.096},{"col":76,"start":2800,"end":3390,"value":0.100},
            {"col":77,"start":30,"end":90,"value":0.070},{"col":77,"start":90,"end":210,"value":0.135},{"col":77,"start":210,"end":450,"value":0.185},{"col":77,"start":450,"end":900,"value":0.197},{"col":77,"start":900,"end":1300,"value":0.201},{"col":77,"start":1300,"end":1800,"value":0.206},{"col":77,"start":1800,"end":2300,"value":0.211},{"col":77,"start":2300,"end":2800,"value":0.216},{"col":77,"start":2800,"end":3390,"value":0.222}
          ]},
          "mark": {"type": "rect", "strokeWidth": 0.6},
          "encoding": {
            "x": {
              "field": "col",
              "type": "ordinal",
              "scale": {"paddingInner": 0, "paddingOuter": 0},
              "axis": {
                "values": [0, 25, 50, 75],
                "labelExpr": "datum.value == 0 ? '20' : datum.value == 25 ? '45' : datum.value == 50 ? '70' : '170'",
                "labelAngle": 0,
                "ticks": false,
                "tickSize": 0,
                "labelPadding": 22,
                "title": "User Frequency",
                "titlePadding": 7
              }
            }
          }
        }
      ]
    },
    {
      "width": 37,
      "height": 739,
      "data": {"values": [{"low": 0, "high": 0.223}]},
      "mark": {
        "type": "rect",
        "color": {
          "gradient": "linear",
          "x1": 0, "y1": 1, "x2": 0, "y2": 0,
          "stops": [
            {"offset": 0, "color": "#ffffd9"},
            {"offset": 0.125, "color": "#edf8b1"},
            {"offset": 0.25, "color": "#c7e9b4"},
            {"offset": 0.375, "color": "#7fcdbb"},
            {"offset": 0.5, "color": "#41b6c4"},
            {"offset": 0.625, "color": "#1d91c0"},
            {"offset": 0.75, "color": "#225ea8"},
            {"offset": 0.875, "color": "#253494"},
            {"offset": 1, "color": "#081d58"}
          ]
        }
      },
      "encoding": {
        "y": {
          "field": "low",
          "type": "quantitative",
          "scale": {"domain": [0, 0.223], "nice": false, "zero": false},
          "axis": {
            "orient": "right",
            "values": [0, 0.04, 0.08, 0.12, 0.16, 0.2],
            "format": ".2f",
            "tickSize": 17,
            "tickWidth": 4.5,
            "tickColor": "#262626",
            "labelPadding": 10,
            "title": null
          }
        },
        "y2": {"field": "high"}
      }
    }
  ]
}
